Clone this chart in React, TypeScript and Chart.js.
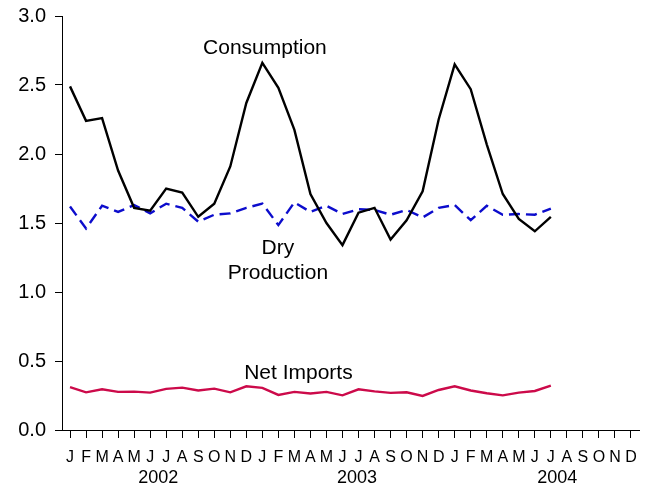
import React, { useEffect, useRef } from 'react';
import { Chart, registerables } from 'chart.js';

Chart.register(...registerables);

const monthLetters = ['J', 'F', 'M', 'A', 'M', 'J', 'J', 'A', 'S', 'O', 'N', 'D'];
const monthLabels = [...monthLetters, ...monthLetters, ...monthLetters];

const yearLabels = ['2002', '2003', '2004'];
const yearCenters = [5.5, 17.9, 30.4];

const consumption = [
  2.49, 2.24, 2.26, 1.88, 1.61, 1.59, 1.75, 1.72, 1.545, 1.64, 1.91, 2.37,
  2.66, 2.48, 2.175, 1.71, 1.5, 1.34, 1.575, 1.61, 1.38, 1.52, 1.73, 2.25,
  2.65, 2.47, 2.07, 1.71, 1.53, 1.44, 1.545,
];

const dryProduction = [
  1.62, 1.46, 1.625, 1.58, 1.63, 1.57, 1.64, 1.61, 1.51, 1.56, 1.57, 1.61,
  1.64, 1.485, 1.65, 1.58, 1.625, 1.565, 1.6, 1.595, 1.56, 1.595, 1.54, 1.61,
  1.63, 1.52, 1.625, 1.56, 1.565, 1.56, 1.605,
];

const netImports = [
  0.31, 0.273, 0.295, 0.276, 0.278, 0.271, 0.298, 0.307, 0.286, 0.3, 0.273, 0.317,
  0.305, 0.254, 0.276, 0.264, 0.276, 0.251, 0.295, 0.28, 0.269, 0.273, 0.247, 0.29,
  0.317, 0.286, 0.266, 0.251, 0.271, 0.283, 0.322,
];

const yTicks = [0, 0.5, 1.0, 1.5, 2.0, 2.5, 3.0];

const seriesLabels = [
  { text: 'Consumption', x: 12.16, y: 2.764 },
  { text: 'Dry', x: 12.97, y: 1.318 },
  { text: 'Production', x: 12.97, y: 1.138 },
  { text: 'Net Imports', x: 14.25, y: 0.409 },
];

const FONT = "'Liberation Sans', Arial, Helvetica, sans-serif";

const textPlugin = {
  id: 'textPlugin',
  afterDraw(chart: any) {
    const { ctx, scales } = chart;
    const xs = scales.x;
    const ys = scales.y;
    ctx.save();
    ctx.fillStyle = '#000';
    ctx.textAlign = 'center';
    ctx.textBaseline = 'middle';
    ctx.font = `21px ${FONT}`;
    seriesLabels.forEach((a) => {
      ctx.fillText(a.text, xs.getPixelForValue(a.x), ys.getPixelForValue(a.y));
    });
    ctx.font = `18px ${FONT}`;
    const yearY = chart.chartArea.bottom + 48;
    yearLabels.forEach((t, i) => {
      ctx.fillText(t, xs.getPixelForValue(yearCenters[i]), yearY);
    });
    ctx.restore();
  },
};

export default function App() {
  const ref = useRef<HTMLCanvasElement | null>(null);

  useEffect(() => {
    document.body.style.margin = '0';
    if (!ref.current) return;
    const chart = new Chart(ref.current, {
      type: 'line',
      data: {
        labels: monthLabels,
        datasets: [
          {
            label: 'Consumption',
            data: consumption,
            borderColor: '#000000',
            borderWidth: 2.4,
            pointRadius: 0,
            tension: 0,
            fill: false,
          },
          {
            label: 'Dry Production',
            data: dryProduction,
            borderColor: '#0c0ccc',
            borderWidth: 2.4,
            borderDash: [11, 6],
            pointRadius: 0,
            tension: 0,
            fill: false,
          },
          {
            label: 'Net Imports',
            data: netImports,
            borderColor: '#cc0a4a',
            borderWidth: 2.4,
            pointRadius: 0,
            tension: 0,
            fill: false,
          },
        ],
      },
      options: {
        animation: false,
        responsive: true,
        maintainAspectRatio: false,
        layout: { padding: { top: 16, right: 8, left: 0, bottom: 0 } },
        plugins: {
          legend: { display: false },
          tooltip: { enabled: false },
          title: { display: false },
        },
        scales: {
          x: {
            type: 'category',
            offset: true,
            border: { display: true, color: '#000', width: 1 },
            grid: {
              display: true,
              drawOnChartArea: false,
              drawTicks: true,
              tickLength: 8,
              color: '#000',
              offset: false,
            },
            ticks: {
              autoSkip: false,
              maxRotation: 0,
              minRotation: 0,
              padding: 10,
              color: '#000',
              font: { family: FONT, size: 16 },
            },
            afterFit(scale: any) {
              scale.height = 59;
              scale.paddingLeft = 0;
              scale.paddingRight = 0;
            },
          },
          y: {
            type: 'linear',
            min: 0,
            max: 3,
            border: { display: true, color: '#000', width: 1 },
            grid: {
              display: true,
              drawOnChartArea: false,
              drawTicks: true,
              tickLength: 7,
              color: '#000',
            },
            afterBuildTicks(scale: any) {
              scale.ticks = yTicks.map((v) => ({ value: v }));
            },
            ticks: {
              padding: 9,
              color: '#000',
              font: { family: FONT, size: 20 },
              callback: (v: any) => Number(v).toFixed(1),
            },
            afterFit(scale: any) {
              scale.width = 62;
              scale.paddingTop = 0;
              scale.paddingBottom = 0;
            },
          },
        },
      },
      plugins: [textPlugin],
    });
    return () => chart.destroy();
  }, []);

  return (
    <div style={{ width: 647, height: 489, position: 'relative' }}>
      <canvas ref={ref} />
    </div>
  );
}
